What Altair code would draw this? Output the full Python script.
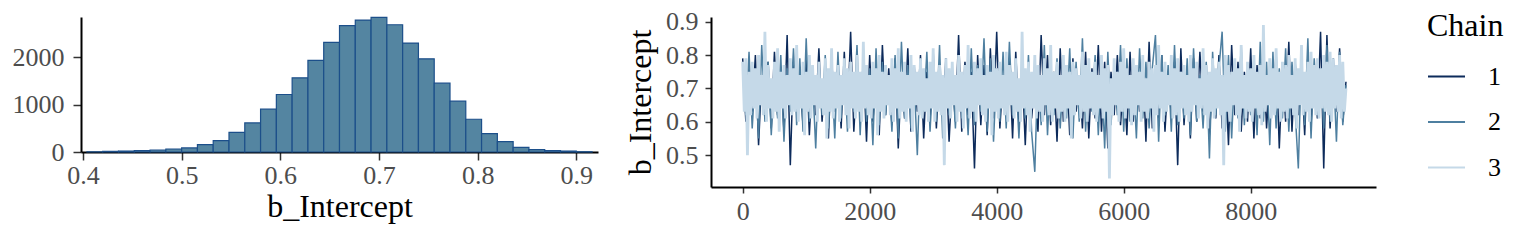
import altair as alt
import pandas as pd

# ---------------- data ----------------
HIST_BIN_CENTERS = [0.412, 0.428, 0.444, 0.460, 0.476, 0.492, 0.508, 0.524, 0.540, 0.556,
                    0.572, 0.588, 0.604, 0.620, 0.636, 0.652, 0.668, 0.684, 0.700, 0.716,
                    0.732, 0.748, 0.764, 0.780, 0.796, 0.812, 0.828, 0.844, 0.860, 0.876,
                    0.892, 0.908]
HIST_COUNTS = [5, 15, 20, 30, 42, 63, 85, 156, 241, 416,
               613, 903, 1213, 1565, 1932, 2313, 2664, 2784, 2841, 2685,
               2298, 1966, 1452, 1072, 691, 389, 220, 99, 51, 30,
               20, 5]
HIST_BIN_WIDTH = 0.016

HIST_X_TICKS = [0.4, 0.5, 0.6, 0.7, 0.8, 0.9]
HIST_Y_TICKS = [0, 1000, 2000]
TRACE_X_TICKS = [0, 2000, 4000, 6000, 8000]
TRACE_Y_TICKS = [0.5, 0.6, 0.7, 0.8, 0.9]

CHAIN_NAMES = ["1", "2", "3"]
CHAIN12_STEP = 50
CHAIN3_STEP = 25

CHAIN1 = [
    0.79, 0.60, 0.76, 0.63, 0.80, 0.53, 0.74, 0.61, 0.78, 0.58,
    0.81, 0.62, 0.75, 0.57, 0.86, 0.47, 0.77, 0.64, 0.73, 0.59,
    0.80, 0.56, 0.76, 0.62, 0.82, 0.60, 0.74, 0.55, 0.79, 0.63,
    0.77, 0.58, 0.81, 0.61, 0.87, 0.57, 0.75, 0.64, 0.78, 0.54,
    0.80, 0.60, 0.73, 0.56, 0.83, 0.62, 0.76, 0.59, 0.79, 0.52,
    0.74, 0.61, 0.82, 0.57, 0.77, 0.63, 0.80, 0.55, 0.75, 0.60,
    0.81, 0.58, 0.76, 0.62, 0.79, 0.54, 0.73, 0.60, 0.86, 0.57,
    0.78, 0.62, 0.75, 0.46, 0.80, 0.59, 0.77, 0.56, 0.82, 0.61,
    0.87, 0.58, 0.74, 0.63, 0.79, 0.55, 0.81, 0.60, 0.76, 0.53,
    0.78, 0.61, 0.73, 0.57, 0.86, 0.62, 0.80, 0.59, 0.75, 0.54,
    0.82, 0.60, 0.77, 0.56, 0.79, 0.63, 0.74, 0.58, 0.81, 0.55,
    0.76, 0.61, 0.83, 0.57, 0.78, 0.52, 0.75, 0.62, 0.80, 0.59,
    0.73, 0.56, 0.81, 0.60, 0.77, 0.63, 0.79, 0.54, 0.84, 0.58,
    0.76, 0.61, 0.80, 0.57, 0.74, 0.62, 0.78, 0.47, 0.82, 0.59,
    0.75, 0.55, 0.79, 0.60, 0.81, 0.63, 0.77, 0.56, 0.73, 0.61,
    0.80, 0.58, 0.76, 0.53, 0.83, 0.62, 0.78, 0.57, 0.75, 0.60,
    0.82, 0.55, 0.77, 0.61, 0.79, 0.58, 0.74, 0.63, 0.81, 0.52,
    0.76, 0.60, 0.84, 0.57, 0.78, 0.62, 0.75, 0.56, 0.80, 0.59,
    0.77, 0.61, 0.87, 0.46, 0.86, 0.58, 0.79, 0.63, 0.82, 0.60,
    0.72,
]

CHAIN2 = [
    0.77, 0.62, 0.81, 0.58, 0.75, 0.55, 0.83, 0.60, 0.78, 0.56,
    0.74, 0.61, 0.80, 0.54, 0.76, 0.63, 0.82, 0.59, 0.79, 0.57,
    0.85, 0.60, 0.73, 0.52, 0.78, 0.62, 0.80, 0.58, 0.75, 0.55,
    0.81, 0.61, 0.77, 0.57, 0.74, 0.63, 0.83, 0.56, 0.79, 0.60,
    0.76, 0.53, 0.82, 0.59, 0.78, 0.62, 0.74, 0.57, 0.80, 0.55,
    0.84, 0.61, 0.77, 0.58, 0.73, 0.50, 0.79, 0.63, 0.81, 0.57,
    0.75, 0.60, 0.83, 0.55, 0.78, 0.62, 0.76, 0.58, 0.80, 0.61,
    0.74, 0.56, 0.82, 0.59, 0.77, 0.63, 0.85, 0.57, 0.79, 0.54,
    0.76, 0.60, 0.81, 0.58, 0.84, 0.62, 0.75, 0.55, 0.78, 0.61,
    0.80, 0.57, 0.45, 0.77, 0.59, 0.83, 0.56, 0.76, 0.62, 0.79,
    0.58, 0.74, 0.61, 0.82, 0.55, 0.78, 0.60, 0.85, 0.57, 0.76,
    0.63, 0.80, 0.56, 0.77, 0.52, 0.81, 0.59, 0.75, 0.62, 0.83,
    0.57, 0.79, 0.60, 0.74, 0.55, 0.82, 0.61, 0.78, 0.58, 0.76,
    0.86, 0.54, 0.80, 0.62, 0.77, 0.57, 0.83, 0.59, 0.75, 0.61,
    0.79, 0.56, 0.82, 0.60, 0.74, 0.58, 0.78, 0.49, 0.81, 0.62,
    0.76, 0.87, 0.57, 0.80, 0.55, 0.77, 0.61, 0.83, 0.59, 0.75,
    0.62, 0.79, 0.56, 0.84, 0.60, 0.78, 0.53, 0.81, 0.58, 0.76,
    0.61, 0.82, 0.57, 0.78, 0.63, 0.46, 0.80, 0.59, 0.85, 0.55,
    0.79, 0.62, 0.76, 0.58, 0.83, 0.60, 0.77, 0.54, 0.81, 0.59,
    0.71,
]

CHAIN3 = [
    0.78, 0.63, 0.79, 0.50, 0.75, 0.62, 0.78, 0.64, 0.76, 0.61, 0.80, 0.65, 0.74, 0.62, 0.87, 0.60, 0.77, 0.64, 0.73, 0.61,
    0.78, 0.63, 0.82, 0.57, 0.75, 0.64, 0.77, 0.61, 0.74, 0.65, 0.79, 0.62, 0.76, 0.63, 0.83, 0.60, 0.74, 0.64, 0.78, 0.56,
    0.75, 0.63, 0.80, 0.61, 0.77, 0.65, 0.74, 0.60, 0.78, 0.64, 0.73, 0.62, 0.79, 0.55, 0.76, 0.63, 0.82, 0.61, 0.75, 0.64,
    0.77, 0.60, 0.74, 0.65, 0.79, 0.62, 0.76, 0.58, 0.78, 0.64, 0.75, 0.61, 0.80, 0.63, 0.75, 0.60, 0.84, 0.64, 0.77, 0.62,
    0.74, 0.61, 0.78, 0.64, 0.76, 0.56, 0.80, 0.63, 0.75, 0.61, 0.77, 0.65, 0.74, 0.62, 0.79, 0.60, 0.76, 0.64, 0.82, 0.61,
    0.75, 0.63, 0.78, 0.60, 0.74, 0.64, 0.80, 0.57, 0.77, 0.65, 0.75, 0.62, 0.79, 0.61, 0.76, 0.63, 0.73, 0.60, 0.78, 0.64,
    0.82, 0.60, 0.75, 0.63, 0.77, 0.62, 0.74, 0.47, 0.79, 0.64, 0.76, 0.61, 0.78, 0.65, 0.74, 0.60, 0.80, 0.63, 0.75, 0.58,
    0.77, 0.64, 0.83, 0.61, 0.74, 0.63, 0.78, 0.60, 0.76, 0.65, 0.79, 0.62, 0.74, 0.60, 0.77, 0.64, 0.75, 0.56, 0.80, 0.63,
    0.76, 0.61, 0.78, 0.64, 0.74, 0.62, 0.81, 0.60, 0.77, 0.65, 0.75, 0.61, 0.79, 0.63, 0.73, 0.60, 0.87, 0.64, 0.76, 0.62,
    0.78, 0.57, 0.75, 0.64, 0.80, 0.61, 0.77, 0.63, 0.74, 0.60, 0.79, 0.65, 0.76, 0.62, 0.83, 0.60, 0.75, 0.64, 0.78, 0.61,
    0.74, 0.63, 0.80, 0.60, 0.77, 0.64, 0.75, 0.55, 0.78, 0.62, 0.76, 0.65, 0.74, 0.61, 0.81, 0.63, 0.77, 0.60, 0.79, 0.64,
    0.75, 0.62, 0.78, 0.60, 0.74, 0.64, 0.80, 0.61, 0.76, 0.63, 0.77, 0.43, 0.73, 0.62, 0.79, 0.65, 0.75, 0.60, 0.78, 0.63,
    0.82, 0.61, 0.76, 0.64, 0.74, 0.59, 0.79, 0.62, 0.77, 0.65, 0.75, 0.60, 0.80, 0.63, 0.73, 0.61, 0.78, 0.64, 0.76, 0.57,
    0.77, 0.62, 0.83, 0.64, 0.75, 0.60, 0.78, 0.63, 0.74, 0.65, 0.80, 0.61, 0.76, 0.62, 0.79, 0.60, 0.75, 0.64, 0.77, 0.62,
    0.74, 0.60, 0.80, 0.63, 0.76, 0.65, 0.78, 0.61, 0.73, 0.64, 0.82, 0.62, 0.77, 0.58, 0.75, 0.63, 0.79, 0.61, 0.76, 0.64,
    0.78, 0.62, 0.74, 0.47, 0.80, 0.63, 0.77, 0.60, 0.75, 0.65, 0.79, 0.62, 0.76, 0.57, 0.83, 0.64, 0.74, 0.61, 0.78, 0.63,
    0.76, 0.60, 0.80, 0.64, 0.75, 0.62, 0.77, 0.59, 0.89, 0.63, 0.74, 0.65, 0.79, 0.61, 0.76, 0.62, 0.82, 0.64, 0.75, 0.60,
    0.78, 0.63, 0.77, 0.61, 0.80, 0.64, 0.74, 0.62, 0.79, 0.58, 0.76, 0.65, 0.83, 0.62, 0.75, 0.63, 0.78, 0.60, 0.81, 0.64,
    0.77, 0.62, 0.79, 0.61, 0.76, 0.64, 0.80, 0.63, 0.78, 0.62, 0.81, 0.60, 0.79, 0.64, 0.77, 0.63, 0.80, 0.61, 0.78, 0.63,
    0.70,
]

CHAIN_COLORS = ["#0d2b5b", "#4e7fa0", "#c5d9e8"]
CHAIN_WIDTHS = [1.5, 1.5, 2.8]
HIST_FILL = "#5485a1"
HIST_STROKE = "#1c4f8a"

FONT = "Liberation Serif"
LABEL_GREY = "#4d4d4d"
TITLE_SIZE = 32
LABEL_SIZE = 26

# ---------------- tables ----------------
hist_df = pd.DataFrame({"center": HIST_BIN_CENTERS, "count": HIST_COUNTS})
hist_df["lo"] = hist_df["center"] - HIST_BIN_WIDTH / 2
hist_df["hi"] = hist_df["center"] + HIST_BIN_WIDTH / 2

rows = []
for name, vals, step in [("1", CHAIN1, CHAIN12_STEP), ("2", CHAIN2, CHAIN12_STEP), ("3", CHAIN3, CHAIN3_STEP)]:
    for i, v in enumerate(vals):
        rows.append({"Chain": name, "iter": i * step, "value": v})
trace_df = pd.DataFrame(rows)

# ---------------- charts ----------------
hist = alt.Chart(hist_df).mark_bar(
    fill=HIST_FILL, stroke=HIST_STROKE, strokeWidth=1.2
).encode(
    x=alt.X("lo:Q",
            scale=alt.Scale(domain=[0.398, 0.922], nice=False, zero=False),
            axis=alt.Axis(values=HIST_X_TICKS, format=".1f", title="b_Intercept",
                          tickSize=8, labelPadding=2, titlePadding=3)),
    x2="hi:Q",
    y=alt.Y("count:Q",
            scale=alt.Scale(domain=[0, 2848], nice=False),
            axis=alt.Axis(values=HIST_Y_TICKS, format="d", title=None,
                          tickSize=8, labelPadding=9)),
    y2=alt.datum(0),
).properties(width=517, height=135)

trace_base = alt.Chart(trace_df).encode(
    x=alt.X("iter:Q",
            scale=alt.Scale(domain=[-499, 9973], nice=False, zero=False),
            axis=alt.Axis(values=TRACE_X_TICKS, format="d", title=None,
                          tickSize=6, labelPadding=5)),
    y=alt.Y("value:Q",
            scale=alt.Scale(domain=[0.4045, 0.914], nice=False, zero=False),
            axis=alt.Axis(values=TRACE_Y_TICKS, format=".1f", title="b_Intercept",
                          tickSize=6, labelPadding=7, titlePadding=8)),
    color=alt.Color("Chain:N",
                    scale=alt.Scale(domain=CHAIN_NAMES, range=CHAIN_COLORS),
                    legend=alt.Legend(orient="none", legendX=1346, legendY=-6,
                                      title="Chain", titleFontSize=TITLE_SIZE, titleFont=FONT,
                                      titleFontWeight="normal", titleColor="black",
                                      titlePadding=14, titleBaseline="top",
                                      labelFontSize=LABEL_SIZE, labelFont=FONT, labelColor="black",
                                      labelOffset=22, symbolType="stroke",
                                      symbolSize=1369, symbolStrokeWidth=2,
                                      rowPadding=12.5, padding=0)),
    order=alt.Order("iter:Q"),
)

trace_layers = [
    trace_base.transform_filter(alt.datum.Chain == name).mark_line(strokeWidth=w)
    for name, w in zip(CHAIN_NAMES, CHAIN_WIDTHS)
]
trace = alt.layer(*trace_layers).properties(width=665, height=170)

chart = alt.hconcat(hist, trace, spacing=113, bounds="flush").properties(
    padding={"left": 12, "top": 8, "right": 0, "bottom": 0}
).configure_view(stroke=None).configure_axis(
    grid=False,
    domainColor="black", domainWidth=2,
    tickColor="#333333", tickWidth=1.5,
    labelColor=LABEL_GREY, labelFont=FONT, labelFontSize=LABEL_SIZE,
    titleColor="black", titleFont=FONT, titleFontSize=TITLE_SIZE, titleFontWeight="normal",
)

chart.save("out.html", embed_options={"renderer": "svg", "actions": False})
